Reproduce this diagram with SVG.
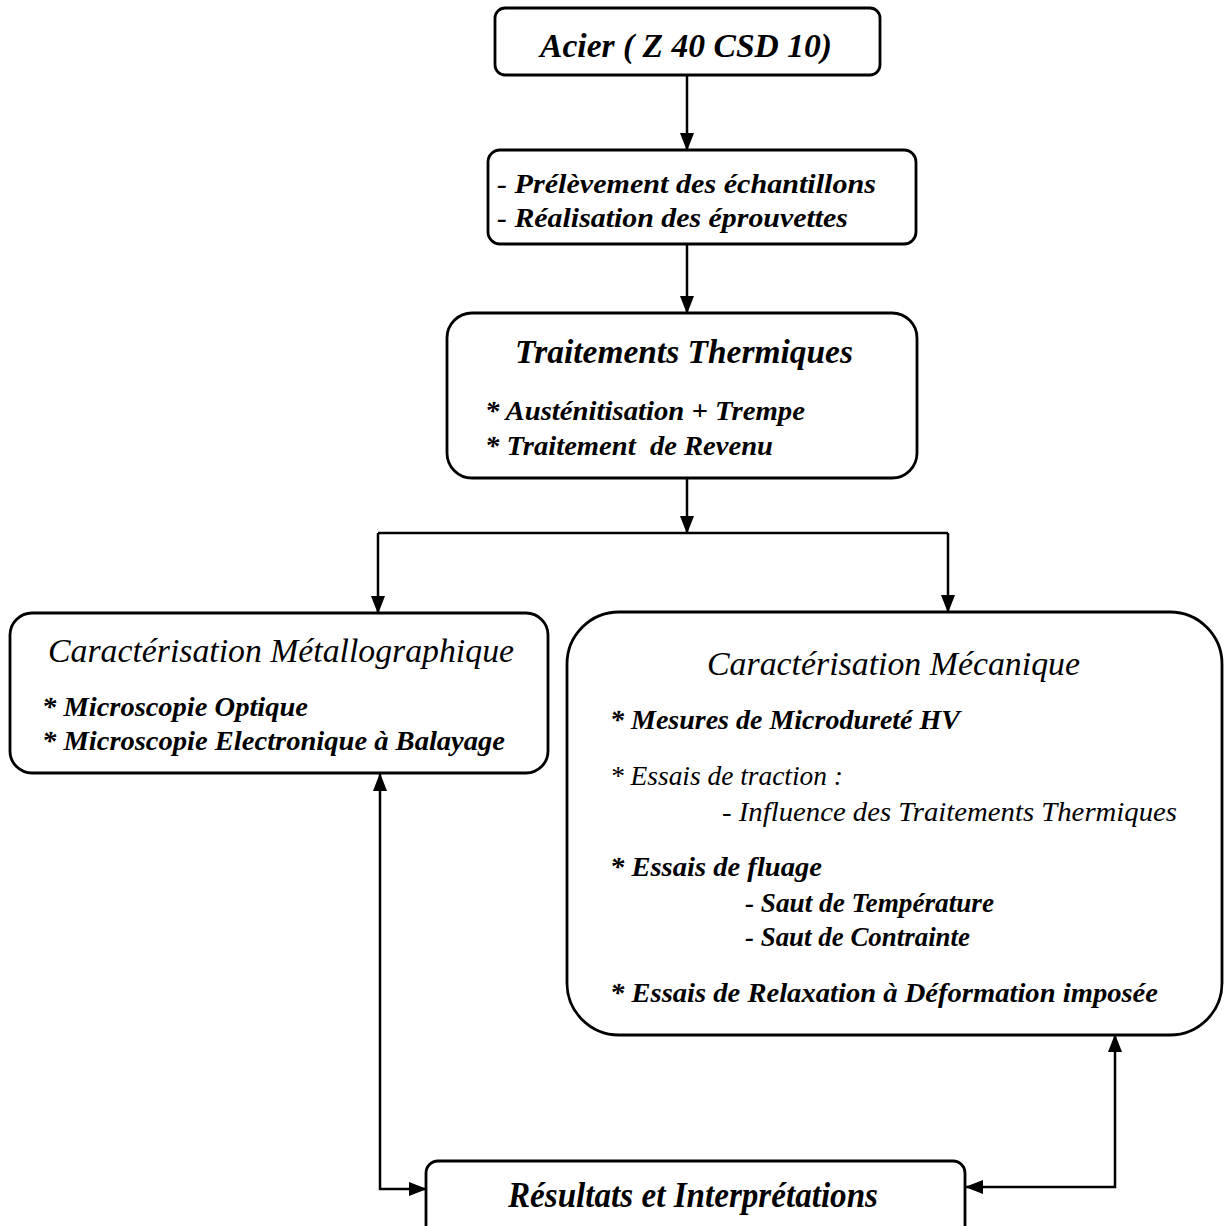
<svg xmlns="http://www.w3.org/2000/svg" width="1230" height="1226" viewBox="0 0 1230 1226">
<style>
.box{fill:#fff;stroke:#000;stroke-width:2.8}
.c{fill:none;stroke:#000;stroke-width:2.5}
text{font-family:"Liberation Serif","Times New Roman",serif;font-style:italic;fill:#000}
.b{font-weight:bold}
</style>
<defs>
<marker id="ah" markerUnits="userSpaceOnUse" markerWidth="18" markerHeight="14" refX="17" refY="7" orient="auto-start-reverse">
<path d="M0,0 L18,7 L0,14 z" fill="#000"/>
</marker>
</defs>
<rect width="1230" height="1226" fill="#fff"/>
<g id="connectors">
<path class="c" d="M687,75 V150" marker-end="url(#ah)"/>
<path class="c" d="M687,244 V313" marker-end="url(#ah)"/>
<path class="c" d="M687,478 V533" marker-end="url(#ah)"/>
<path class="c" d="M378,533 H948"/>
<path class="c" d="M378,533 V613" marker-end="url(#ah)"/>
<path class="c" d="M948,533 V612" marker-end="url(#ah)"/>
<path class="c" d="M380,774 V1189 H426" marker-start="url(#ah)" marker-end="url(#ah)"/>
<path class="c" d="M1115,1035 V1187 H966" marker-start="url(#ah)" marker-end="url(#ah)"/>
</g>
<g id="acier">
<rect class="box" x="495" y="8" width="385" height="67" rx="10"/>
<text class="b" x="540" y="57" font-size="34" textLength="292" lengthAdjust="spacingAndGlyphs">Acier ( Z 40 CSD 10)</text>
</g>
<g id="prelevement">
<rect class="box" x="488" y="150" width="428" height="94" rx="12"/>
<text class="b" x="497" y="193" font-size="27" textLength="379" lengthAdjust="spacingAndGlyphs">- Prélèvement des échantillons</text>
<text class="b" x="497" y="227" font-size="27" textLength="351" lengthAdjust="spacingAndGlyphs">- Réalisation des éprouvettes</text>
</g>
<g id="traitements">
<rect class="box" x="447" y="313" width="470" height="165" rx="25"/>
<text class="b" x="515" y="363" font-size="33" textLength="338" lengthAdjust="spacingAndGlyphs">Traitements Thermiques</text>
<text class="b" x="485" y="420" font-size="27" textLength="320" lengthAdjust="spacingAndGlyphs">* Austénitisation + Trempe</text>
<text class="b" x="485" y="455" font-size="27" textLength="288" lengthAdjust="spacingAndGlyphs" xml:space="preserve">* Traitement  de Revenu</text>
</g>
<g id="metallographique">
<rect class="box" x="10" y="613" width="538" height="160" rx="22"/>
<text x="48" y="662" font-size="33" textLength="466" lengthAdjust="spacingAndGlyphs">Caractérisation Métallographique</text>
<text class="b" x="42" y="716" font-size="27" textLength="266" lengthAdjust="spacingAndGlyphs">* Microscopie Optique</text>
<text class="b" x="42" y="750" font-size="27" textLength="463" lengthAdjust="spacingAndGlyphs">* Microscopie Electronique à Balayage</text>
</g>
<g id="mecanique">
<rect class="box" x="567" y="612" width="655" height="423" rx="52"/>
<text x="707" y="675" font-size="34" textLength="373" lengthAdjust="spacingAndGlyphs">Caractérisation Mécanique</text>
<text class="b" x="610" y="729" font-size="27" textLength="350" lengthAdjust="spacingAndGlyphs">* Mesures de Microdureté HV</text>
<text x="610" y="785" font-size="27" textLength="233" lengthAdjust="spacingAndGlyphs">* Essais de traction :</text>
<text x="722" y="821" font-size="27" textLength="455" lengthAdjust="spacingAndGlyphs">- Influence des Traitements Thermiques</text>
<text class="b" x="610" y="876" font-size="27" textLength="212" lengthAdjust="spacingAndGlyphs">* Essais de fluage</text>
<text class="b" x="745" y="912" font-size="27" textLength="249" lengthAdjust="spacingAndGlyphs">- Saut de Température</text>
<text class="b" x="745" y="946" font-size="27" textLength="225" lengthAdjust="spacingAndGlyphs">- Saut de Contrainte</text>
<text class="b" x="610" y="1002" font-size="27" textLength="548" lengthAdjust="spacingAndGlyphs">* Essais de Relaxation à Déformation imposée</text>
</g>
<g id="resultats">
<rect class="box" x="426" y="1161" width="539" height="100" rx="12"/>
<text class="b" x="508" y="1207" font-size="35" textLength="370" lengthAdjust="spacingAndGlyphs">Résultats et Interprétations</text>
</g>
</svg>
